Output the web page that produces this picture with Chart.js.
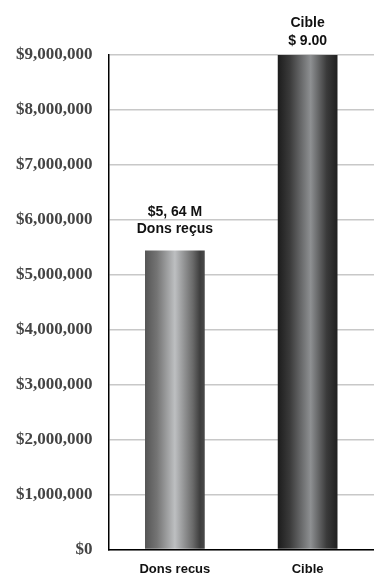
<!DOCTYPE html>
<html>
<head>
<meta charset="utf-8">
<script src="https://cdn.jsdelivr.net/npm/chart.js@4"></script>
<style>
  html, body { margin: 0; padding: 0; background: #fff; }
  #wrap { width: 374px; height: 577px; }
</style>
</head>
<body>
<div id="wrap"><canvas id="chart" width="374" height="577"></canvas></div>
<script>
// Données du graphique
const categories = ["Dons recus", "Cible"];
const values = [5440000, 9000000];
const topLabels = [["$5, 64 M", "Dons reçus"], ["Cible", "$ 9.00"]];
const yMax = 9000000;
const yStep = 1000000;

const barPct = 0.45;

// Dégradés horizontaux pour l'effet cylindre
const barStops = [
    [[0, '#555555'], [0.2, '#747474'], [0.5, '#bdbfc1'], [0.8, '#6a6a6a'], [0.92, '#3e3e3e'], [1, '#4a4a4a']],
    [[0, '#1c1c1c'], [0.2, '#3a3a3a'], [0.55, '#8e9092'], [0.82, '#3a3a3a'], [1, '#202020']]
];

function barGradient(c) {
    const chart = c.chart;
    const xs = chart.scales.x;
    if (!xs || xs.width == null || c.dataIndex == null) return '#888';
    const cx = xs.getPixelForValue(c.dataIndex);
    const w = xs.width / categories.length * barPct;
    const g = chart.ctx.createLinearGradient(cx - w / 2, 0, cx + w / 2, 0);
    barStops[c.dataIndex].forEach(s => g.addColorStop(s[0], s[1]));
    return g;
}

// Décalage vertical des étiquettes au-dessus des barres
const labelOffsets = [[-35, -18], [-28, -10]];

const labelPlugin = {
    id: 'topLabels',
    afterDatasetsDraw(chart) {
        const ctx = chart.ctx;
        ctx.save();
        ctx.fillStyle = '#111';
        ctx.textAlign = 'center';
        ctx.textBaseline = 'alphabetic';
        ctx.font = "bold 14px 'Liberation Sans', Arial, sans-serif";
        chart.getDatasetMeta(0).data.forEach((bar, i) => {
            const lines = topLabels[i];
            ctx.fillText(lines[0], bar.x, bar.y + labelOffsets[i][0]);
            ctx.fillText(lines[1], bar.x, bar.y + labelOffsets[i][1]);
        });
        ctx.restore();
    }
};

new Chart(document.getElementById('chart').getContext('2d'), {
    type: 'bar',
    data: {
        labels: categories,
        datasets: [{
            data: values,
            backgroundColor: barGradient,
            borderWidth: 0,
            barPercentage: barPct,
            categoryPercentage: 1
        }]
    },
    options: {
        responsive: false,
        animation: false,
        layout: { padding: { top: 55, left: 0, right: 0, bottom: -12 } },
        plugins: {
            legend: { display: false },
            tooltip: { enabled: false }
        },
        scales: {
            y: {
                min: 0,
                max: yMax,
                ticks: {
                    stepSize: yStep,
                    padding: 16,
                    color: '#444',
                    font: { family: "'Liberation Serif', 'Times New Roman', serif", size: 17, weight: 'bold' },
                    callback: v => '$' + v.toLocaleString('en-US')
                },
                grid: { color: '#c8c8c8', lineWidth: 1.5, drawTicks: false },
                border: { color: '#000', width: 1.5 }
            },
            x: {
                ticks: {
                    padding: 12,
                    color: '#111',
                    font: { family: "'Liberation Sans', Arial, sans-serif", size: 13, weight: 'bold' }
                },
                grid: { display: false, drawTicks: false },
                border: { color: '#000', width: 1.5 }
            }
        }
    },
    plugins: [labelPlugin]
});
</script>
</body>
</html>
